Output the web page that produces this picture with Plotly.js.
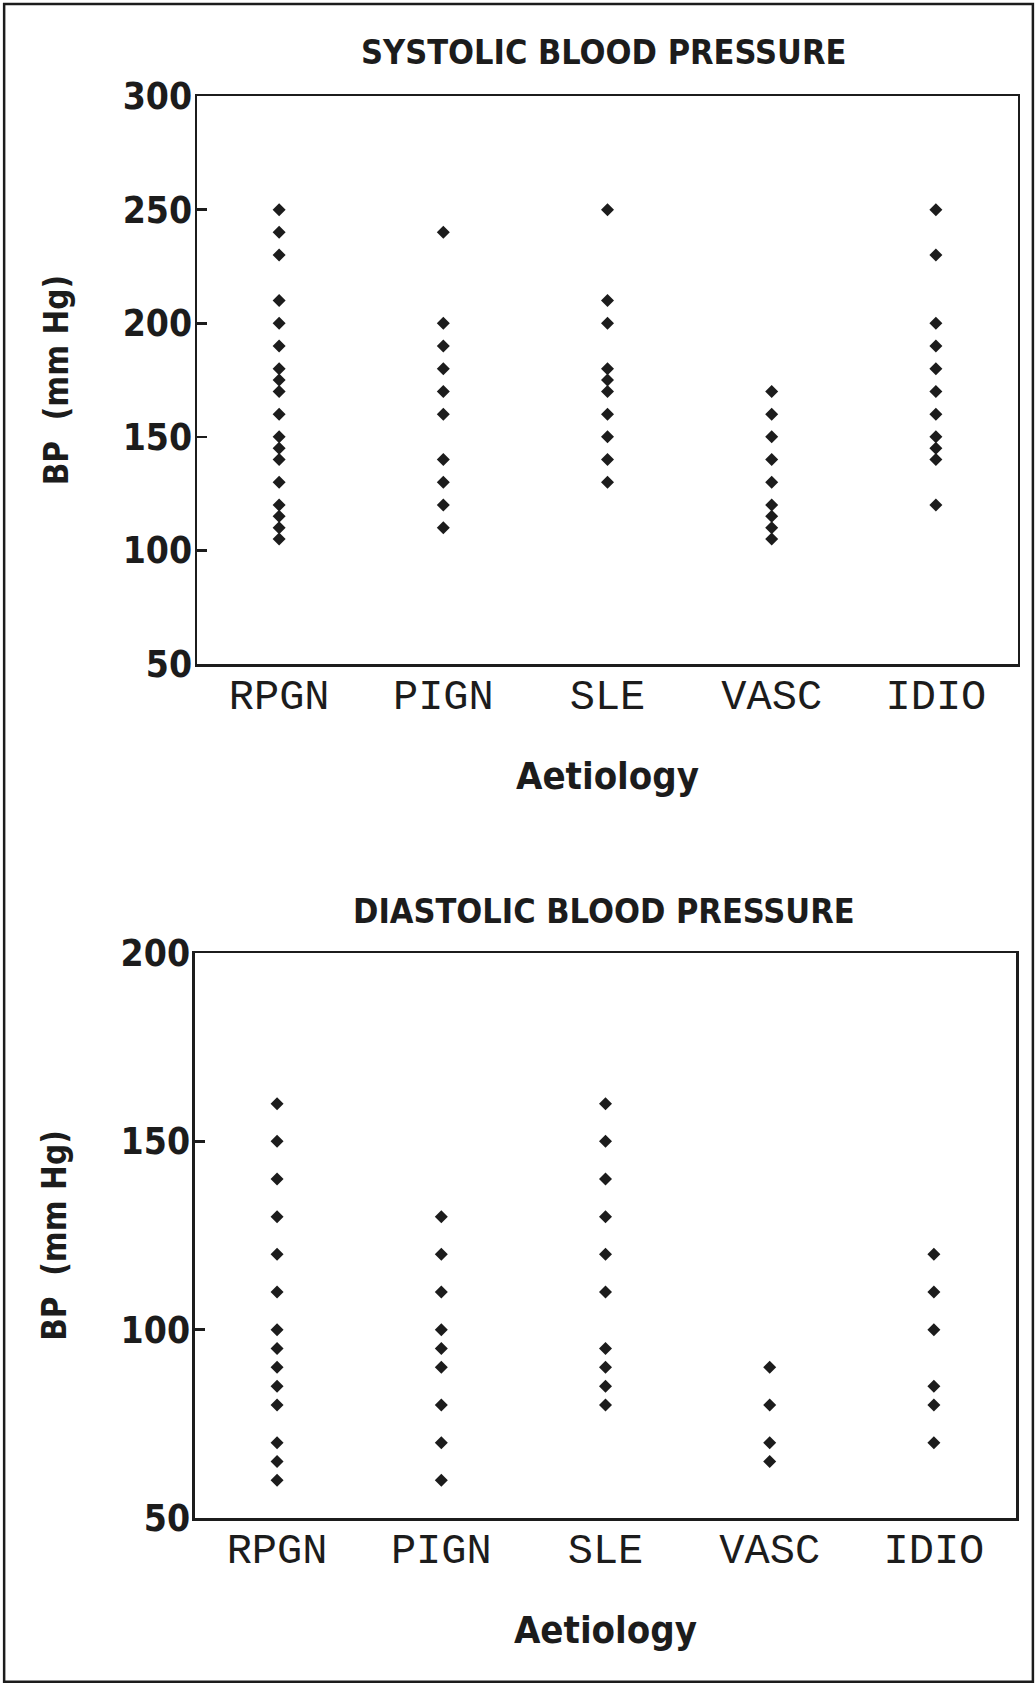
<!DOCTYPE html>
<html>
<head>
<meta charset="utf-8">
<script src="https://cdn.plot.ly/plotly-3.0.1.min.js"></script>
<style>
  html, body { margin: 0; padding: 0; background: #ffffff; }
  #chart { width: 1036px; height: 1685px; }
</style>
</head>
<body>
<div id="chart"></div>
<script>
// Categories (aetiology)
const categories = ["RPGN", "PIGN", "SLE", "VASC", "IDIO"];

// Systolic blood pressure (mm Hg) per aetiology
const sysRPGN = [250, 240, 230, 210, 200, 190, 180, 175, 170, 160, 150, 145, 140, 130, 120, 115, 110, 105];
const sysPIGN = [240, 200, 190, 180, 170, 160, 140, 130, 120, 110];
const sysSLE  = [250, 210, 200, 180, 175, 170, 160, 150, 140, 130];
const sysVASC = [170, 160, 150, 140, 130, 120, 115, 110, 105];
const sysIDIO = [250, 230, 200, 190, 180, 170, 160, 150, 145, 140, 120];

// Diastolic blood pressure (mm Hg) per aetiology
const diaRPGN = [160, 150, 140, 130, 120, 110, 100, 95, 90, 85, 80, 70, 65, 60];
const diaPIGN = [130, 120, 110, 100, 95, 90, 80, 70, 60];
const diaSLE  = [160, 150, 140, 130, 120, 110, 95, 90, 85, 80];
const diaVASC = [90, 80, 70, 65];
const diaIDIO = [120, 110, 100, 85, 80, 70];

// Tick values
const sysTicks = [50, 100, 150, 200, 250, 300];
const diaTicks = [50, 100, 150, 200];

const systolic = [sysRPGN, sysPIGN, sysSLE, sysVASC, sysIDIO];
const diastolic = [diaRPGN, diaPIGN, diaSLE, diaVASC, diaIDIO];

const INK = "#1c1c1c";
const COND = "DejaVu Sans Condensed, DejaVu Sans, sans-serif";
const MONO = "Liberation Mono, DejaVu Sans Mono, monospace";

function flatten(groups) {
  const xs = [], ys = [];
  groups.forEach((vals, i) => vals.forEach(v => { xs.push(categories[i]); ys.push(v); }));
  return { xs, ys };
}

const s = flatten(systolic);
const d = flatten(diastolic);

const marker = { symbol: "diamond", size: 10, color: INK };

const traces = [
  { type: "scatter", mode: "markers", x: s.xs, y: s.ys, xaxis: "x", yaxis: "y",
    marker: marker, name: "Systolic", showlegend: false, hoverinfo: "x+y" },
  { type: "scatter", mode: "markers", x: d.xs, y: d.ys, xaxis: "x2", yaxis: "y2",
    marker: marker, name: "Diastolic", showlegend: false, hoverinfo: "x+y" }
];

function xAxis(domain, anchor) {
  return {
    domain: domain, anchor: anchor, type: "category",
    categoryorder: "array", categoryarray: categories,
    range: [-0.5, 4.5],
    showline: true, mirror: true, linecolor: INK, linewidth: 2.5,
    showgrid: false, zeroline: false, ticks: "",
    tickfont: { family: MONO, size: 42, color: INK },
    ticklabelstandoff: -8,
    title: { text: "Aetiology", font: { family: COND, size: 38, color: INK, weight: "bold" }, standoff: 42 }
  };
}

function yAxis(domain, anchor, range, ticks) {
  return {
    domain: domain, anchor: anchor, range: range,
    tickmode: "array", tickvals: ticks, ticktext: ticks.map(String),
    showline: true, mirror: true, linecolor: INK, linewidth: 2.5,
    showgrid: false, zeroline: false,
    ticks: "inside", ticklen: 10, tickwidth: 2.5, tickcolor: INK,
    tickfont: { family: COND, size: 37, color: INK, weight: "bold" },
    ticklabelstandoff: -5,
    title: { text: "BP  (mm Hg)", font: { family: COND, size: 33, color: INK, weight: "bold" }, standoff: 44 }
  };
}

const layout = {
  width: 1036, height: 1685,
  margin: { l: 0, r: 0, t: 0, b: 0 },
  paper_bgcolor: "#ffffff", plot_bgcolor: "#ffffff",
  showlegend: false,
  xaxis: xAxis([0.1902, 0.9826], "y"),
  yaxis: yAxis([0.6059, 0.9430], "x", [50, 300], sysTicks),
  xaxis2: xAxis([0.1882, 0.9807], "y2"),
  yaxis2: yAxis([0.0991, 0.4344], "x2", [50, 200], diaTicks),
  annotations: [
    { text: "SYSTOLIC BLOOD PRESSURE", xref: "paper", yref: "paper", x: 0.583, y: 0.9691,
      xanchor: "center", yanchor: "middle", showarrow: false,
      font: { family: COND, size: 34, color: INK, weight: "bold" } },
    { text: "DIASTOLIC BLOOD PRESSURE", xref: "paper", yref: "paper", x: 0.583, y: 0.4593,
      xanchor: "center", yanchor: "middle", showarrow: false,
      font: { family: COND, size: 34, color: INK, weight: "bold" } }
  ],
  shapes: [
    { type: "rect", xref: "paper", yref: "paper", x0: 0.004, x1: 0.997, y0: 0.002, y1: 0.9976,
      line: { color: INK, width: 2.5 }, fillcolor: "rgba(0,0,0,0)" }
  ]
};

Plotly.newPlot("chart", traces, layout, { staticPlot: true, displayModeBar: false });
</script>
</body>
</html>
